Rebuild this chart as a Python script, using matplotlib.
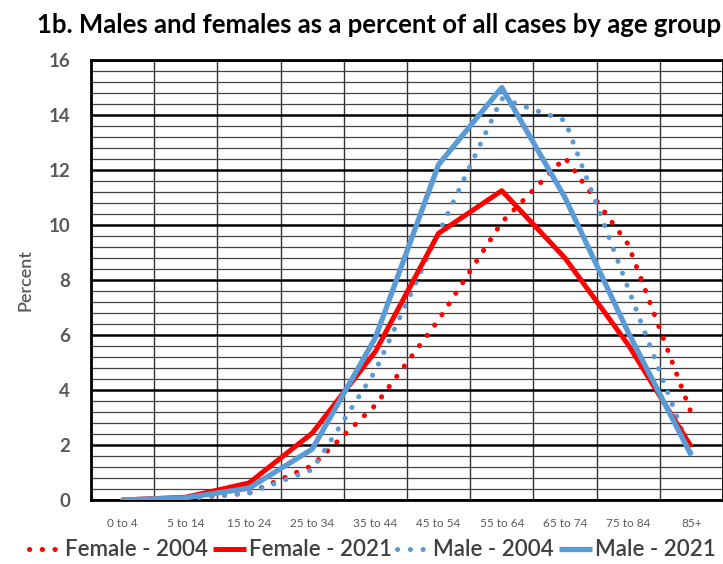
import matplotlib
matplotlib.use("Agg")
import matplotlib.pyplot as plt
import numpy as np
from matplotlib.ticker import MultipleLocator

categories = ["0 to 4", "5 to 14", "15 to 24", "25 to 34", "35 to 44",
              "45 to 54", "55 to 64", "65 to 74", "75 to 84", "85+"]
female_2004 = [0.0, 0.05, 0.25, 1.25, 3.45, 6.55, 10.1, 12.45, 9.3, 3.15]
female_2021 = [0.0, 0.1, 0.62, 2.43, 5.4, 9.7, 11.25, 8.8, 5.65, 1.93]
male_2004 = [0.0, 0.05, 0.25, 1.1, 4.7, 9.7, 14.6, 13.8, 7.7, 1.65]
male_2021 = [0.0, 0.08, 0.43, 1.85, 5.9, 12.2, 15.0, 11.0, 6.1, 1.62]
y_ticks = [0, 2, 4, 6, 8, 10, 12, 14, 16]

plt.rcParams['font.family'] = ['Lato', 'DejaVu Sans']
RED = "#FF0000"
BLUE = "#5B9BD5"
GRAY = "#595959"

fig = plt.figure(figsize=(7.23, 5.64), dpi=100)
ax = fig.add_axes([0.1259, 0.1135, 0.874, 0.780])

x = np.arange(len(categories))
dot = (0, (0.05, 2.5))
ax.plot(x, female_2004, color=RED, lw=3.6, linestyle=dot, dash_capstyle='round', label="Female - 2004", zorder=4)
ax.plot(x, female_2021, color=RED, lw=3.6, solid_capstyle='butt', label="Female - 2021", zorder=5)
ax.plot(x, male_2004, color=BLUE, lw=3.6, linestyle=dot, dash_capstyle='round', label="Male - 2004", zorder=4)
ax.plot(x, male_2021, color=BLUE, lw=3.8, solid_capstyle='butt', label="Male - 2021", zorder=6)

ax.set_xlim(-0.5, len(categories) - 0.5)
ax.set_ylim(0, 16)
ax.set_yticks(y_ticks)
ax.yaxis.set_minor_locator(MultipleLocator(0.4))
ax.set_xticks(x)
ax.set_xticks(np.arange(len(categories) + 1) - 0.5, minor=True)
ax.set_xticklabels(categories, fontsize=8.5, color=GRAY)
ax.set_yticklabels([str(v) for v in y_ticks], fontsize=13.5, fontweight='bold', color=GRAY)
ax.tick_params(axis='x', which='both', length=0, pad=13)
ax.tick_params(axis='y', which='both', length=0, pad=15)

ax.grid(True, which='major', axis='y', color='black', lw=1.8, zorder=1)
ax.grid(True, which='minor', axis='y', color='#444444', lw=0.9, zorder=1)
ax.grid(True, which='minor', axis='x', color='#333333', lw=1.0, zorder=1)
ax.grid(False, which='major', axis='x')
for s in ax.spines.values():
    s.set_color('black')
    s.set_linewidth(2)

ax.set_ylabel("Percent", fontsize=13, color=GRAY, fontweight='semibold', labelpad=11)

fig.text(0.524, 0.956, "1b. Males and females as a percent of all cases by age group",
         ha='center', va='center', fontsize=18.5, fontweight='bold', color='black')

leg = fig.legend(loc='center', bbox_to_anchor=(0.515, 0.025), ncol=4, frameon=False,
                 fontsize=16, handlelength=1.5, handletextpad=0.15, columnspacing=0.2)
for t in leg.get_texts():
    t.set_color('#404040')
    t.set_fontweight('semibold')

fig.savefig("out.png", dpi=100)
